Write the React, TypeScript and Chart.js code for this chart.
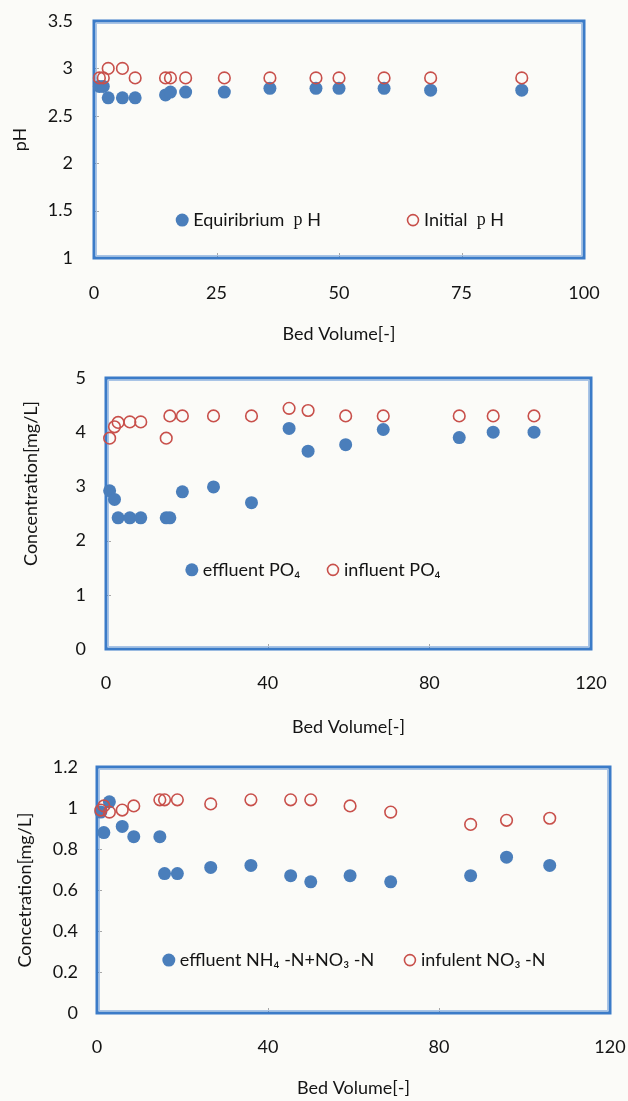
import React, { useEffect, useRef } from "react";
import { Chart, registerables } from "chart.js";

Chart.register(...registerables);

// ---------------- Data ----------------
// Panel 1 : pH
const bedVolumePH = [1.1, 1.9, 2.9, 5.8, 8.4, 14.6, 15.6, 18.7, 26.6, 35.9, 45.3, 50.0, 59.2, 68.7, 87.3];
const equilibriumPH = [2.81, 2.81, 2.69, 2.69, 2.69, 2.72, 2.75, 2.75, 2.75, 2.79, 2.79, 2.79, 2.79, 2.77, 2.77];
const initialPH = [2.9, 2.9, 3.0, 3.0, 2.9, 2.9, 2.9, 2.9, 2.9, 2.9, 2.9, 2.9, 2.9, 2.9, 2.9];

// Panel 2 : PO4
const bedVolumePO4 = [0.9, 2.1, 3.0, 5.9, 8.6, 14.9, 15.8, 18.9, 26.6, 36.0, 45.3, 50.0, 59.3, 68.6, 87.4, 95.8, 105.9];
const effluentPO4 = [2.92, 2.76, 2.42, 2.42, 2.42, 2.42, 2.42, 2.9, 2.99, 2.7, 4.07, 3.65, 3.77, 4.05, 3.9, 4.0, 4.0];
const influentPO4 = [3.89, 4.1, 4.18, 4.19, 4.19, 3.89, 4.3, 4.3, 4.3, 4.3, 4.44, 4.4, 4.3, 4.3, 4.3, 4.3, 4.3];

// Panel 3 : N
const bedVolumeN = [0.9, 1.6, 2.9, 5.9, 8.6, 14.7, 15.8, 18.8, 26.6, 36.0, 45.3, 50.0, 59.2, 68.7, 87.4, 95.8, 105.9];
const effluentN = [0.98, 0.88, 1.03, 0.91, 0.86, 0.86, 0.68, 0.68, 0.71, 0.72, 0.67, 0.64, 0.67, 0.64, 0.67, 0.76, 0.72];
const influentN = [0.99, 1.01, 0.98, 0.99, 1.01, 1.04, 1.04, 1.04, 1.02, 1.04, 1.04, 1.04, 1.01, 0.98, 0.92, 0.94, 0.95];

// Axis ranges / tick steps
const phAxis = { xMax: 100, xStep: 25, yMin: 1, yMax: 3.5, yStep: 0.5 };
const po4Axis = { xMax: 120, xStep: 40, yMin: 0, yMax: 5, yStep: 1 };
const nAxis = { xMax: 120, xStep: 40, yMin: 0, yMax: 1.2, yStep: 0.2 };

// Labels
const xTitle = "Bed Volume[-]";
const phLabels = ["Equiribrium", "Initial"];
const po4Labels = ["effluent PO₄", "influent PO₄"];
const nLabels = ["effluent NH₄ -N+NO₃ -N", "infulent NO₃ -N"];
const yTitles = ["pH", "Concentration[mg/L]", "Concetration[mg/L]"];

// ---------------- Styles ----------------
const SANS = "Lato, 'Open Sans', 'Noto Sans', sans-serif";
const SERIF = "'Liberation Serif', 'DejaVu Serif', serif";
const TEXT = "#141414";
const BLUE = "#4A7EBB";
const RED = "#C8504B";
const FRAME = "#3B7BC8";
const W = 628;

const fmt = (v: number) => String(Number(Number(v).toFixed(2)));

const framePlugin = {
  id: "frame",
  beforeDatasetsDraw(chart: any) {
    const { ctx, chartArea: a } = chart;
    const xs = chart.scales.x;
    const ys = chart.scales.y;
    ctx.save();
    ctx.strokeStyle = "#A8A8A8";
    ctx.lineWidth = 1;
    xs.ticks.forEach((t: any) => {
      const px = Math.round(xs.getPixelForValue(t.value)) + 0.5;
      ctx.beginPath();
      ctx.moveTo(px, a.bottom);
      ctx.lineTo(px, a.bottom - 5);
      ctx.stroke();
    });
    ys.ticks.forEach((t: any) => {
      const py = Math.round(ys.getPixelForValue(t.value)) + 0.5;
      ctx.beginPath();
      ctx.moveTo(a.left, py);
      ctx.lineTo(a.left + 5, py);
      ctx.stroke();
    });
    ctx.strokeStyle = "#A9C4E6";
    ctx.lineWidth = 1;
    ctx.strokeRect(a.left + 2.5, a.top + 2.5, a.width - 5, a.height - 5);
    ctx.strokeStyle = FRAME;
    ctx.lineWidth = 3;
    ctx.strokeRect(a.left, a.top, a.width, a.height);
    ctx.restore();
  },
};

const legendPlugin = {
  id: "inLegend",
  afterDatasetsDraw(chart: any, _args: any, opts: any) {
    const { ctx, chartArea: a } = chart;
    const y = a.top + opts.fy * a.height;
    ctx.save();
    opts.items.forEach((it: any) => {
      const ds = chart.data.datasets[it.dataset];
      const mx = a.left + it.fx * a.width;
      ctx.beginPath();
      if (it.filled) {
        ctx.arc(mx, y, 6.5, 0, Math.PI * 2);
        ctx.fillStyle = ds.backgroundColor;
        ctx.fill();
      } else {
        ctx.arc(mx, y, 5.5, 0, Math.PI * 2);
        ctx.strokeStyle = ds.borderColor;
        ctx.lineWidth = 1.6;
        ctx.stroke();
      }
      let tx = mx + 11;
      ctx.textBaseline = "middle";
      ctx.fillStyle = TEXT;
      it.parts.forEach((p: any) => {
        ctx.font = `18px ${p.serif ? SERIF : SANS}`;
        ctx.fillText(p.text, tx, y);
        tx += ctx.measureText(p.text).width;
      });
    });
    ctx.restore();
  },
};

const yTitlePlugin = {
  id: "yTitle",
  afterDraw(chart: any, _args: any, opts: any) {
    const { ctx, chartArea: a } = chart;
    ctx.save();
    ctx.translate(opts.x, a.top + opts.fy * a.height);
    ctx.rotate(-Math.PI / 2);
    ctx.font = `18px ${SANS}`;
    ctx.fillStyle = TEXT;
    ctx.textAlign = "center";
    ctx.textBaseline = "middle";
    ctx.fillText(opts.text, 0, 0);
    ctx.restore();
  },
};

type Spec = {
  height: number;
  area: { left: number; top: number; right: number; bottom: number };
  axis: { xMax: number; xStep: number; yMin: number; yMax: number; yStep: number };
  x: number[];
  filled: number[];
  hollow: number[];
  labels: string[];
  yLabelPad: number;
  xLabelPad: number;
  xTitlePad: number;
  yTitle: { text: string; x: number; fy: number };
  legend: { fy: number; items: any[] };
};

function buildConfig(s: Spec): any {
  const font = { family: SANS, size: 18 };
  return {
    type: "scatter",
    data: {
      datasets: [
        {
          label: s.labels[0],
          data: s.x.map((x, i) => ({ x, y: s.filled[i] })),
          backgroundColor: BLUE,
          borderColor: BLUE,
          pointRadius: 6.5,
          pointBorderWidth: 0,
          order: 2,
          clip: false,
        },
        {
          label: s.labels[1],
          data: s.x.map((x, i) => ({ x, y: s.hollow[i] })),
          backgroundColor: "rgba(0,0,0,0)",
          borderColor: RED,
          pointRadius: 5.8,
          pointBorderWidth: 1.6,
          order: 1,
          clip: false,
        },
      ],
    },
    options: {
      responsive: false,
      maintainAspectRatio: false,
      animation: false,
      devicePixelRatio: 1,
      events: [],
      layout: { padding: { left: 0, top: s.area.top, right: W - s.area.right, bottom: 0 } },
      scales: {
        x: {
          type: "linear",
          position: "bottom",
          min: 0,
          max: s.axis.xMax,
          ticks: {
            stepSize: s.axis.xStep,
            padding: s.xLabelPad,
            font,
            color: TEXT,
            maxRotation: 0,
            autoSkip: false,
            callback: (v: any) => fmt(v),
          },
          grid: { display: false, drawTicks: false },
          border: { display: false },
          title: { display: true, text: xTitle, font, color: TEXT, padding: { top: 0, bottom: s.xTitlePad } },
          afterFit: (sc: any) => {
            sc.height = s.height - s.area.bottom;
            sc.paddingLeft = 0;
            sc.paddingRight = 0;
          },
        },
        y: {
          type: "linear",
          position: "left",
          min: s.axis.yMin,
          max: s.axis.yMax,
          ticks: { stepSize: s.axis.yStep, padding: s.yLabelPad, font, color: TEXT, callback: (v: any) => fmt(v) },
          grid: { display: false, drawTicks: false },
          border: { display: false },
          afterFit: (sc: any) => {
            sc.width = s.area.left;
            sc.paddingTop = 0;
            sc.paddingBottom = 0;
          },
        },
      },
      plugins: {
        legend: { display: false },
        tooltip: { enabled: false },
        inLegend: s.legend,
        yTitle: s.yTitle,
      },
    },
    plugins: [framePlugin, legendPlugin, yTitlePlugin],
  };
}

function Panel({ top, spec }: { top: number; spec: Spec }) {
  const ref = useRef<HTMLCanvasElement>(null);
  useEffect(() => {
    const chart = new Chart(ref.current as HTMLCanvasElement, buildConfig(spec));
    return () => chart.destroy();
  }, []);
  return (
    <div style={{ position: "absolute", left: 0, top, width: W, height: spec.height }}>
      <canvas ref={ref} width={W} height={spec.height} style={{ display: "block" }} />
    </div>
  );
}

const specPH: Spec = {
  height: 350,
  area: { left: 94, top: 21, right: 584, bottom: 258 },
  axis: phAxis,
  x: bedVolumePH,
  filled: equilibriumPH,
  hollow: initialPH,
  labels: phLabels,
  yLabelPad: 21,
  xLabelPad: 24,
  xTitlePad: 5,
  yTitle: { text: yTitles[0], x: 20, fy: 0.5 },
  legend: {
    fy: 0.84,
    items: [
      { dataset: 0, filled: true, fx: 0.18, parts: [{ text: phLabels[0] + "  " }, { text: "p", serif: true }, { text: " H" }] },
      { dataset: 1, filled: false, fx: 0.651, parts: [{ text: phLabels[1] + "  " }, { text: "p", serif: true }, { text: " H" }] },
    ],
  },
};

const specPO4: Spec = {
  height: 395,
  area: { left: 106, top: 28, right: 591, bottom: 299 },
  axis: po4Axis,
  x: bedVolumePO4,
  filled: effluentPO4,
  hollow: influentPO4,
  labels: po4Labels,
  yLabelPad: 20,
  xLabelPad: 23,
  xTitlePad: 7,
  yTitle: { text: yTitles[1], x: 31, fy: 0.389 },
  legend: {
    fy: 0.708,
    items: [
      { dataset: 0, filled: true, fx: 0.177, parts: [{ text: po4Labels[0] }] },
      { dataset: 1, filled: false, fx: 0.468, parts: [{ text: po4Labels[1] }] },
    ],
  },
};

const specN: Spec = {
  height: 356,
  area: { left: 97, top: 22, right: 610, bottom: 268 },
  axis: nAxis,
  x: bedVolumeN,
  filled: effluentN,
  hollow: influentN,
  labels: nLabels,
  yLabelPad: 19,
  xLabelPad: 23,
  xTitlePad: 2,
  yTitle: { text: yTitles[2], x: 25, fy: 0.5 },
  legend: {
    fy: 0.785,
    items: [
      { dataset: 0, filled: true, fx: 0.14, parts: [{ text: nLabels[0] }] },
      { dataset: 1, filled: false, fx: 0.61, parts: [{ text: nLabels[1] }] },
    ],
  },
};

export default function App() {
  return (
    <div
      style={{
        position: "absolute",
        left: 0,
        top: 0,
        width: W,
        height: 1101,
        background: "#fbfbf8",
        overflow: "hidden",
      }}
    >
      <Panel top={0} spec={specPH} />
      <Panel top={350} spec={specPO4} />
      <Panel top={745} spec={specN} />
    </div>
  );
}
